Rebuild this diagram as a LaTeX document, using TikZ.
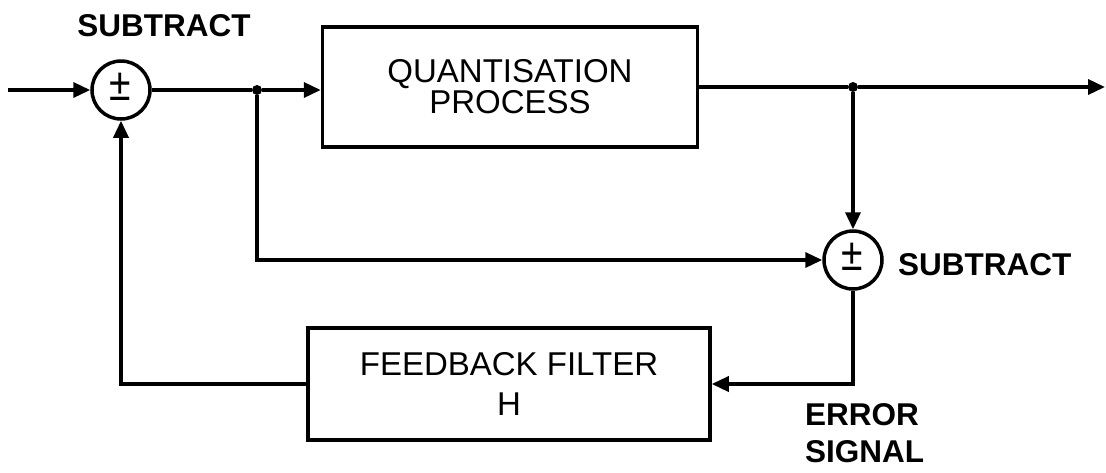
\documentclass[tikz,border=0pt]{standalone}
\usepackage{fontspec}
\setmainfont{Liberation Sans}
\usetikzlibrary{arrows.meta,positioning}
\newcommand{\pmsign}{\scalebox{0.85}[1]{±}}
\begin{document}
\begin{tikzpicture}[x=1pt,y=-1pt,
  wire/.style={line width=3.5pt},
  arr/.style={wire,-{Triangle[length=17pt,width=15pt]}},
  blockbox/.style={draw,line width=3.5pt,rectangle,align=center,inner sep=0pt,
    font=\fontsize{33}{31}\selectfont},
  sumnode/.style={draw,circle,line width=3.5pt,minimum size=58pt,inner sep=0pt},
  dotnode/.style={circle,fill,minimum size=10pt,inner sep=0pt},
  sign/.style={inner sep=0pt,font=\fontsize{46}{46}\selectfont},
  caption/.style={inner sep=0pt,align=left,font=\fontsize{31.5}{37}\selectfont\bfseries}]
\useasboundingbox (0,0) rectangle (1106,472);

% summing junctions
\node[sumnode] (s1) at (121,90) {};
\node[sign] (s1s) at (120,87) {\pmsign};
\node[sumnode] (s2) at (853,260) {};
\node[sign] (s2s) at (852,257) {\pmsign};

% blocks
\node[blockbox,minimum width=375pt,minimum height=120pt] (qbox) at (510,87)
  {QUANTISATION\\PROCESS};
\node[blockbox,minimum width=402pt,minimum height=112pt,
  font=\fontsize{33}{40}\selectfont] (fbox) at (509,384)
  {FEEDBACK FILTER\\H};

% branch points
\node[dotnode] (j1) at (257,90) {};
\node[dotnode] (j2) at (853,87) {};
\coordinate (in) at (8,90);
\coordinate (out) at (1105,87);

% labels
\node[caption] (lab1) at (164,26) {SUBTRACT};
\node[caption,anchor=west] (lab2) at (898,265) {SUBTRACT};
\node[caption,anchor=north west] (lab3) at (805,403) {ERROR\\SIGNAL};

% signal paths
\draw[arr] (in) -- (s1);
\draw[wire] (s1) -- (j1);
\draw[arr] (j1) -- (qbox.west |- j1);
\draw[wire] (qbox.east) -- (j2);
\draw[arr] (j2) -- (out);
\draw[arr] (j2) -- (s2);
\draw[arr] (j1) |- (s2);
\draw[arr] (s2) |- (fbox.east);
\draw[arr] (fbox.west) -| (s1);
\end{tikzpicture}
\end{document}
